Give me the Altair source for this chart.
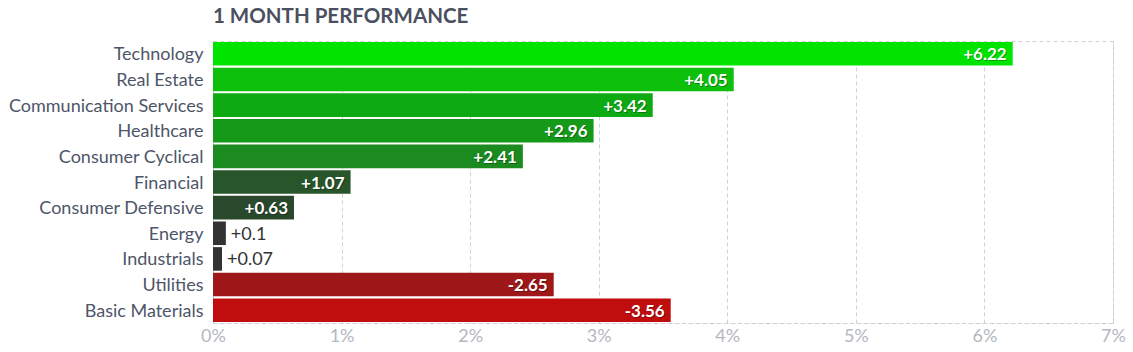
import altair as alt
import pandas as pd

sectors = ["Technology", "Real Estate", "Communication Services", "Healthcare",
           "Consumer Cyclical", "Financial", "Consumer Defensive", "Energy",
           "Industrials", "Utilities", "Basic Materials"]
values = [6.22, 4.05, 3.42, 2.96, 2.41, 1.07, 0.63, 0.10, 0.07, -2.65, -3.56]
labels = ["+6.22", "+4.05", "+3.42", "+2.96", "+2.41", "+1.07", "+0.63", "+0.1", "+0.07", "-2.65", "-3.56"]
colors = ["#00E400", "#0CC00C", "#0EAA12", "#149A18", "#1B8A1F", "#28552A",
          "#2A482C", "#333333", "#333333", "#9E1719", "#C00E0E"]
x_ticks = [0, 1, 2, 3, 4, 5, 6, 7]

df = pd.DataFrame({"sector": sectors, "value": values, "label": labels, "color": colors})
df["absval"] = df["value"].abs()
df["inside"] = df["absval"] >= 0.5

FONT = "Lato"

y_enc = alt.Y("sector:N", sort=sectors, title=None,
              scale=alt.Scale(paddingInner=0.08, paddingOuter=0.04),
              axis=alt.Axis(labelFont=FONT, labelFontSize=18, labelColor="#4E5568",
                            ticks=False, domain=False, labelPadding=10, grid=False,
                            labelOffset=1.5, labelLimit=400))
x_enc = alt.X("absval:Q", title=None,
              scale=alt.Scale(domain=[0, 7], nice=False),
              axis=alt.Axis(values=x_ticks, labelExpr="datum.value + '%'",
                            labelFont=FONT, labelFontSize=18, labelColor="#B4B7C0",
                            labelFlush=False,
                            ticks=False, domain=True, domainColor="#D0D0D6", domainDash=[4, 3],
                            grid=True, gridColor="#D0D0D6", gridDash=[4, 3],
                            labelPadding=4))

base = alt.Chart(df)

bars = base.mark_bar(cornerRadius=0).encode(
    x=x_enc, y=y_enc,
    color=alt.Color("color:N", scale=None),
)

inside_shadow = base.transform_filter("datum.inside").mark_text(
    align="right", baseline="middle", dx=-5, dy=2.5, font=FONT, fontSize=17,
    fontWeight="bold", color="#000000", opacity=0.3
).encode(x="absval:Q", y=alt.Y("sector:N", sort=sectors), text="label:N")

inside = base.transform_filter("datum.inside").mark_text(
    align="right", baseline="middle", dx=-6, dy=1.5, font=FONT, fontSize=17,
    fontWeight="bold", color="#FFFFFF"
).encode(x="absval:Q", y=alt.Y("sector:N", sort=sectors), text="label:N")

outside = base.transform_filter("!datum.inside").mark_text(
    align="left", baseline="middle", dx=5, dy=1.5, font=FONT, fontSize=18,
    color="#333333"
).encode(x="absval:Q", y=alt.Y("sector:N", sort=sectors), text="label:N")

chart = alt.layer(bars, inside_shadow, inside, outside).properties(
    width=900, height=282,
    title=alt.TitleParams("1 MONTH PERFORMANCE", anchor="start", font=FONT, fontSize=20.5,
                          fontWeight="bold", color="#4A5060", offset=14, frame="group"),
    padding={"left": 213, "top": 41, "right": 20, "bottom": 29},
    autosize=alt.AutoSizeParams(type="none"),
).configure_view(stroke="#D0D0D6", strokeDash=[4, 3], strokeWidth=1)

chart.save("out.html", embed_options={"renderer": "svg", "actions": False})
